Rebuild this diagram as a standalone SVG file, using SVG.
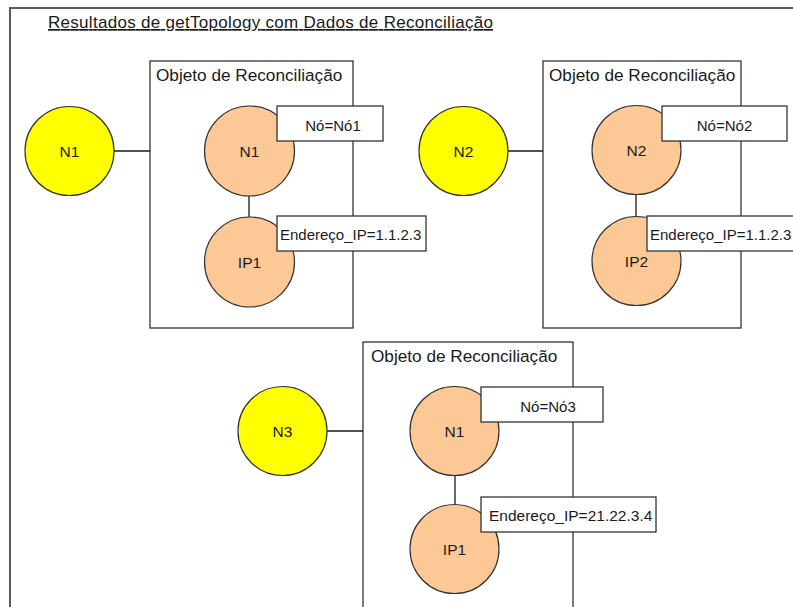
<svg xmlns="http://www.w3.org/2000/svg" width="793" height="607" viewBox="0 0 793 607">
  <style>
    text { font-family: "Liberation Sans", Arial, sans-serif; fill: #1a1a1a; }
    .frame { fill: none; stroke: #5a5a5a; stroke-width: 2; }
    .title { font-size: 17px; text-decoration: underline; }
    .group { fill: #ffffff; stroke: #333333; stroke-width: 1.3; }
    .gtitle { font-size: 17.2px; }
    .host { fill: #ffff00; stroke: #333333; stroke-width: 1.2; }
    .item { fill: #fcc896; stroke: #333333; stroke-width: 1.2; }
    .nlabel { font-size: 15.5px; text-anchor: middle; }
    .attr { fill: #ffffff; stroke: #333333; stroke-width: 1.3; }
    .atext { font-size: 15px; }
    .link { stroke: #1a1a1a; stroke-width: 1.3; fill: none; }
  </style>

  <!-- page frame -->
  <rect class="frame" x="10" y="8" width="800" height="620"/>
  <text class="title" x="48" y="28" textLength="445" lengthAdjust="spacing">Resultados de getTopology com Dados de Reconciliação</text>

  <!-- reconciliation containers -->
  <g id="recon1">
    <rect class="group" x="150" y="61" width="203" height="267"/>
    <text class="gtitle" x="156" y="81">Objeto de Reconciliação</text>
  </g>
  <g id="recon2">
    <rect class="group" x="543" y="61" width="198" height="267"/>
    <text class="gtitle" x="549" y="81">Objeto de Reconciliação</text>
  </g>
  <g id="recon3">
    <rect class="group" x="363" y="342" width="210" height="280"/>
    <text class="gtitle" x="371" y="362">Objeto de Reconciliação</text>
  </g>

  <!-- connectors -->
  <g id="connectors">
    <line class="link" x1="114" y1="151" x2="150" y2="151"/>
    <line class="link" x1="249" y1="196" x2="249" y2="217"/>
    <line class="link" x1="508" y1="151" x2="543" y2="151"/>
    <line class="link" x1="636" y1="195" x2="636" y2="217"/>
    <line class="link" x1="327" y1="431" x2="363" y2="431"/>
    <line class="link" x1="455" y1="475" x2="455" y2="505"/>
  </g>

  <!-- topology nodes -->
  <g id="host-n1">
    <circle class="host" cx="69.5" cy="151" r="44.5"/>
    <text class="nlabel" x="69.5" y="157">N1</text>
  </g>
  <g id="host-n2">
    <circle class="host" cx="463.5" cy="151" r="44.5"/>
    <text class="nlabel" x="463.5" y="157">N2</text>
  </g>
  <g id="host-n3">
    <circle class="host" cx="282.5" cy="431" r="44.5"/>
    <text class="nlabel" x="282.5" y="437">N3</text>
  </g>

  <!-- reconciliation items -->
  <g id="r1-node">
    <circle class="item" cx="249.5" cy="151" r="45"/>
    <text class="nlabel" x="249.5" y="157">N1</text>
  </g>
  <g id="r1-ip">
    <circle class="item" cx="249.5" cy="262" r="45"/>
    <text class="nlabel" x="249.5" y="268">IP1</text>
  </g>
  <g id="r2-node">
    <circle class="item" cx="636.5" cy="150" r="44.5"/>
    <text class="nlabel" x="636.5" y="156">N2</text>
  </g>
  <g id="r2-ip">
    <circle class="item" cx="636.5" cy="261" r="44.5"/>
    <text class="nlabel" x="636.5" y="267">IP2</text>
  </g>
  <g id="r3-node">
    <circle class="item" cx="454.5" cy="431" r="44.5"/>
    <text class="nlabel" x="454.5" y="437">N1</text>
  </g>
  <g id="r3-ip">
    <circle class="item" cx="454.5" cy="549" r="44.5"/>
    <text class="nlabel" x="454.5" y="555">IP1</text>
  </g>

  <!-- attribute tags -->
  <g id="r1-node-attr">
    <rect class="attr" x="277" y="106" width="106" height="35"/>
    <text class="atext" x="333" y="131" text-anchor="middle">Nó=Nó1</text>
  </g>
  <g id="r1-ip-attr">
    <rect class="attr" x="277" y="216" width="149" height="35"/>
    <text class="atext" x="280" y="240">Endereço_IP=1.1.2.3</text>
  </g>
  <g id="r2-node-attr">
    <rect class="attr" x="662" y="106" width="125" height="35"/>
    <text class="atext" x="724.5" y="131" text-anchor="middle">Nó=Nó2</text>
  </g>
  <g id="r2-ip-attr">
    <rect class="attr" x="647" y="216" width="160" height="35"/>
    <text class="atext" x="650" y="240">Endereço_IP=1.1.2.3</text>
  </g>
  <g id="r3-node-attr">
    <rect class="attr" x="481" y="387" width="122" height="35"/>
    <text class="atext" x="548" y="412" text-anchor="middle">Nó=Nó3</text>
  </g>
  <g id="r3-ip-attr">
    <rect class="attr" x="481" y="497" width="175" height="35"/>
    <text class="atext" x="489" y="521" style="font-size:15.5px">Endereço_IP=21.22.3.4</text>
  </g>
</svg>
